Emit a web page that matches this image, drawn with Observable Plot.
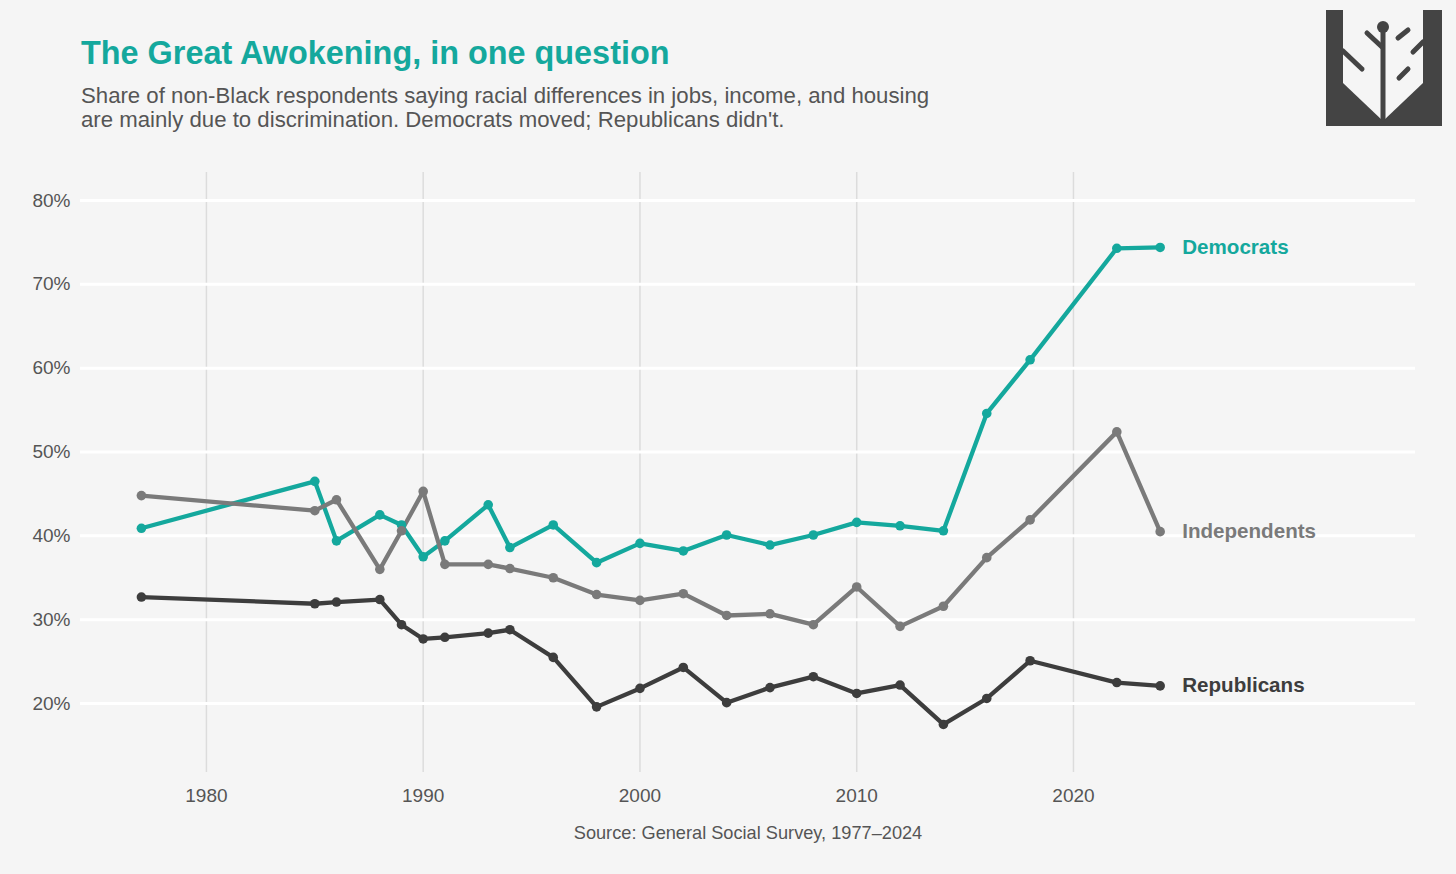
<!DOCTYPE html>
<html>
<head>
<meta charset="utf-8">
<script src="https://cdn.jsdelivr.net/npm/d3@7"></script>
<script src="https://cdn.jsdelivr.net/npm/@observablehq/plot@0.6"></script>
<style>
  html, body { margin: 0; padding: 0; background: #f5f5f5; }
  #wrap { position: relative; width: 1456px; height: 874px; background: #f5f5f5; font-family: "Liberation Sans", Arial, Helvetica, sans-serif; overflow: hidden; }
  #title { position: absolute; left: 81px; top: 35px; font-size: 32.4px; font-weight: bold; color: #14a89d; white-space: nowrap; }
  #subtitle { position: absolute; left: 81px; top: 84px; font-size: 22.2px; line-height: 24px; color: #555555; white-space: nowrap; }
  #chart { position: absolute; left: 0; top: 150px; }
  #source { position: absolute; left: 0; width: 1496px; top: 823px; text-align: center; font-size: 18.2px; color: #555555; }
  #logo { position: absolute; left: 1325px; top: 9px; }
</style>
</head>
<body>
<div id="wrap">
  <div id="title">The Great Awokening, in one question</div>
  <div id="subtitle">Share of non-Black respondents saying racial differences in jobs, income, and housing<br>are mainly due to discrimination. Democrats moved; Republicans didn't.</div>
  <svg id="logo" width="118" height="118" viewBox="0 0 118 118">
    <rect x="1" y="1" width="116" height="116" fill="#444444"/>
    <path d="M18 1 L98 1 L98 74 L58 112 L18 74 Z" fill="#f5f5f5"/>
    <g stroke="#444444" stroke-width="5" stroke-linecap="round" fill="none">
      <line x1="58" y1="20" x2="58" y2="110"/>
      <line x1="42" y1="24" x2="57" y2="38"/>
      <line x1="18" y1="42" x2="37" y2="60"/>
      <line x1="73" y1="29" x2="83" y2="21"/>
      <line x1="88" y1="43" x2="98" y2="33"/>
      <line x1="74" y1="69" x2="83" y2="60"/>
    </g>
    <circle cx="58" cy="18" r="6" fill="#444444"/>
  </svg>
  <div id="chart"></div>
  <div id="source">Source: General Social Survey, 1977–2024</div>
</div>
<script>
const years = [1977,1985,1986,1988,1989,1990,1991,1993,1994,1996,1998,2000,2002,2004,2006,2008,2010,2012,2014,2016,2018,2022,2024];
const democrats    = [40.9,46.5,39.4,42.5,41.3,37.5,39.4,43.7,38.6,41.3,36.8,39.1,38.2,40.1,38.9,40.1,41.6,41.2,40.6,54.6,61.0,74.3,74.4];
const independents = [44.8,43.0,44.3,36.0,40.6,45.3,36.6,36.6,36.1,35.0,33.0,32.3,33.1,30.5,30.7,29.4,33.9,29.2,31.6,37.4,41.9,52.4,40.5];
const republicans  = [32.7,31.9,32.1,32.4,29.4,27.7,27.9,28.4,28.8,25.5,19.6,21.8,24.3,20.1,21.9,23.2,21.2,22.2,17.5,20.6,25.1,22.5,22.1];
const parties = ["Democrats", "Independents", "Republicans"];
const partyColors = ["#14a89d", "#7a7a7a", "#3d3d3d"];
const xTicks = [1980, 1990, 2000, 2010, 2020];
const yTicks = [20, 30, 40, 50, 60, 70, 80];

const seriesValues = [democrats, independents, republicans];
const rows = [];
parties.forEach((p, i) => years.forEach((y, j) => rows.push({party: p, year: y, value: seriesValues[i][j]})));
const lastRows = parties.map((p, i) => ({party: p, year: years[years.length - 1], value: seriesValues[i][years.length - 1]}));

const color = {domain: parties, range: partyColors};

const chart = Plot.plot({
  width: 1456,
  height: 680,
  marginTop: 22,
  marginBottom: 58,
  marginLeft: 80,
  marginRight: 41,
  style: {background: "transparent", fontFamily: "'Liberation Sans', Arial, sans-serif", fontSize: "19px", color: "#555555"},
  x: {domain: [1974.19, 2035.78], ticks: xTicks, tickFormat: d => String(d), tickSize: 0, tickPadding: 16, label: null},
  y: {domain: [11.77, 83.34], ticks: yTicks, tickFormat: d => d + "%", tickSize: 0, tickPadding: 10, label: null},
  color: color,
  marks: [
    Plot.ruleX(xTicks, {stroke: "#dcdcdc", strokeWidth: 1.5}),
    Plot.ruleY(yTicks, {stroke: "#ffffff", strokeWidth: 3}),
    Plot.line(rows, {x: "year", y: "value", z: "party", stroke: "party", strokeWidth: 4.3, strokeLinejoin: "round", strokeLinecap: "round"}),
    Plot.dot(rows, {x: "year", y: "value", fill: "party", r: 4.8, stroke: "none"}),
    Plot.text(lastRows, {x: "year", y: "value", text: "party", fill: "party", dx: 22, textAnchor: "start", fontSize: 20.6, fontWeight: "bold"})
  ]
});
document.getElementById("chart").appendChild(chart);
</script>
</body>
</html>
